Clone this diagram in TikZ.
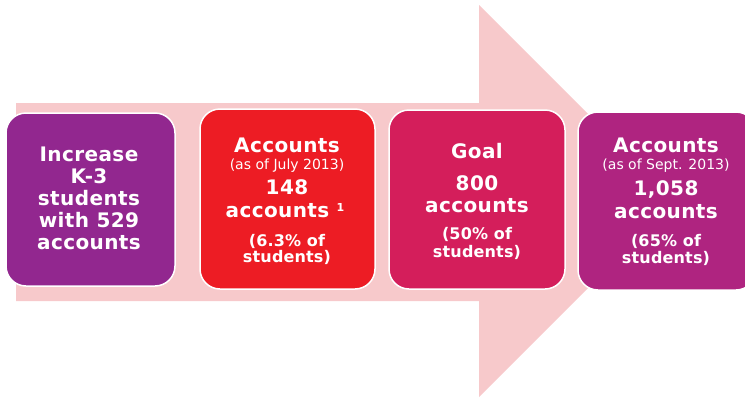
\documentclass[tikz,border=0pt]{standalone}
\usepackage{fontspec}
\setmainfont{DejaVu Sans}
\newfontfamily\headfnt[LetterSpace=2]{DejaVu Sans Bold}
\newfontfamily\midfnt[LetterSpace=1]{DejaVu Sans Bold}
\newfontfamily\regfnt{DejaVu Sans}
\definecolor{arrowpink}{HTML}{F7C9CB}
\definecolor{cpurple}{HTML}{92278F}
\definecolor{cred}{HTML}{ED1C24}
\definecolor{ccrimson}{HTML}{D41E5B}
\definecolor{cmagenta}{HTML}{AF2480}
\tikzset{
  card/.style={draw=white, line width=1.5pt, rounded corners=20pt},
  big/.style={anchor=base, text=white, inner sep=0pt, font=\headfnt\fontsize{20}{20}\selectfont},
  small/.style={anchor=base, text=white, inner sep=0pt, font=\regfnt\fontsize{14}{14}\selectfont},
  mid/.style={anchor=base, text=white, inner sep=0pt, font=\midfnt\fontsize{16}{16}\selectfont},
}
\begin{document}
\begin{tikzpicture}[x=1pt,y=-1pt]
\useasboundingbox (0,0) rectangle (745,397);
\clip (0,0) rectangle (745,397);
% big arrow
\fill[arrowpink] (16,103) -- (479,103) -- (479,5) -- (675,201) -- (479,397) -- (479,301) -- (16,301) -- cycle;
% cards
\filldraw[card, fill=cpurple] (6,113) rectangle (175,286);
\filldraw[card, fill=cred] (200,109) rectangle (375,289);
\filldraw[card, fill=ccrimson] (389,110) rectangle (565,289);
\filldraw[card, fill=cmagenta] (578,112) rectangle (756,290);
% box 1
\node[big] (a1) at (89,161) {Increase};
\node[big] (a2) at (89,183) {K-3};
\node[big] (a3) at (89,205) {students};
\node[big] (a4) at (89,227) {with 529};
\node[big] (a5) at (89,249) {accounts};
% box 2
\node[big] (b1) at (287,152) {Accounts};
\node[small] (b2) at (287,169) {(as of July 2013)};
\node[big] (b3) at (287,194) {148};
\node[big] (b4) at (285,217) {accounts \raisebox{6pt}{\fontsize{11}{11}\selectfont 1}};
\node[mid] (b5) at (287,246) {(6.3\% of};
\node[mid] (b6) at (287,262) {students)};
% box 3
\node[big] (c1) at (477,158) {Goal};
\node[big] (c2) at (477,190) {800};
\node[big] (c3) at (477,212) {accounts};
\node[mid] (c4) at (477,239) {(50\% of};
\node[mid] (c5) at (477,257) {students)};
% box 4
\node[big] (d1) at (666,152) {Accounts};
\node[small] (d2) at (666,169) {(as of Sept. 2013)};
\node[big] (d3) at (666,195) {1,058};
\node[big] (d4) at (666,218) {accounts};
\node[mid] (d5) at (666,246) {(65\% of};
\node[mid] (d6) at (666,263) {students)};
\end{tikzpicture}
\end{document}
